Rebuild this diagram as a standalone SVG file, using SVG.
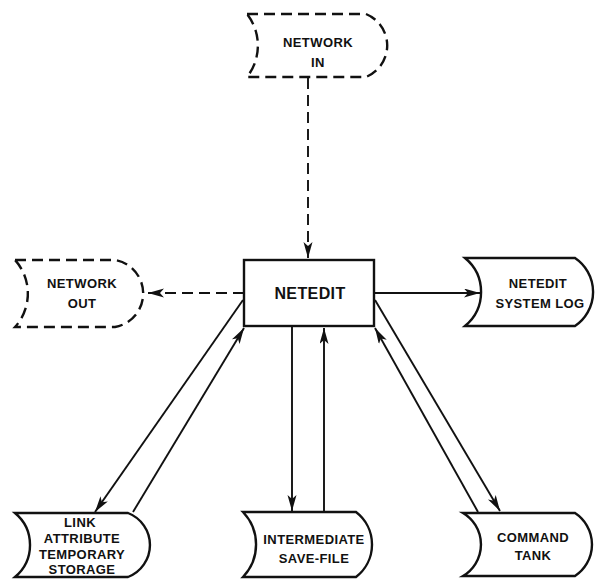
<svg xmlns="http://www.w3.org/2000/svg" width="597" height="579" viewBox="0 0 597 579">
<defs>
<marker id="ah" markerUnits="userSpaceOnUse" markerWidth="18" markerHeight="10" refX="16" refY="4.5" orient="auto">
<path d="M0,0 L16,4.5 L0,9 L4,4.5 Z" fill="#111"/>
</marker>
<style>
.shape{fill:#fff;stroke:#111;stroke-width:2.4}
.dash{stroke-dasharray:11 6}
.con{fill:none;stroke:#111;stroke-width:1.9}
text{font-family:"Liberation Sans",Arial,sans-serif;font-weight:bold;font-size:13px;letter-spacing:0.4px;fill:#111;text-anchor:middle}
</style>
</defs>
<rect width="597" height="579" fill="#fff"/>
<g id="connectors">
<path class="con dash" d="M308,78 V258" marker-end="url(#ah)"/>
<path class="con dash" d="M244,293 H148" marker-end="url(#ah)"/>
<path class="con" d="M374,293 H480" marker-end="url(#ah)"/>
<path class="con" d="M243,300 L95,512" marker-end="url(#ah)"/>
<path class="con" d="M133,512 L244,328" marker-end="url(#ah)"/>
<path class="con" d="M292,326 V511" marker-end="url(#ah)"/>
<path class="con" d="M324,512 V328" marker-end="url(#ah)"/>
<path class="con" d="M375,300 L500,511" marker-end="url(#ah)"/>
<path class="con" d="M478,512 L375,328" marker-end="url(#ah)"/>
</g>
<g id="network-in">
<path class="shape dash" d="M247,14 H366 A34 34 0 0 1 366,77 H247 A51 51 0 0 0 247,14 Z"/>
<text x="318" y="47">NETWORK</text>
<text x="318" y="67">IN</text>
</g>
<g id="network-out">
<path class="shape dash" d="M15,260 H115 A34 34 0 0 1 115,327 H15 A50 50 0 0 0 15,260 Z"/>
<text x="82" y="288">NETWORK</text>
<text x="82" y="308">OUT</text>
</g>
<g id="netedit">
<rect class="shape" x="244" y="260" width="130" height="66"/>
<text x="310" y="299" style="font-size:16px">NETEDIT</text>
</g>
<g id="system-log">
<path class="shape" d="M465,258 H575 A41 41 0 0 1 575,326 H465 A44 44 0 0 0 465,258 Z"/>
<text x="538" y="288">NETEDIT</text>
<text x="540" y="308">SYSTEM LOG</text>
</g>
<g id="link-attribute">
<path class="shape" d="M15,513 H128 A34.3 34.3 0 0 1 128,577 H15 A41.6 41.6 0 0 0 15,513 Z"/>
<text x="80" y="527">LINK</text>
<text x="82" y="543">ATTRIBUTE</text>
<text x="82" y="559">TEMPORARY</text>
<text x="82" y="574">STORAGE</text>
</g>
<g id="intermediate">
<path class="shape" d="M243,512 H356 A41 41 0 0 1 356,577 H243 A47 47 0 0 0 243,512 Z"/>
<text x="314" y="544">INTERMEDIATE</text>
<text x="314" y="563">SAVE-FILE</text>
</g>
<g id="command-tank">
<path class="shape" d="M463,513 H575 A37.7 37.7 0 0 1 575,576 H463 A36.6 36.6 0 0 0 463,513 Z"/>
<text x="533" y="542">COMMAND</text>
<text x="533" y="560">TANK</text>
</g>
</svg>
